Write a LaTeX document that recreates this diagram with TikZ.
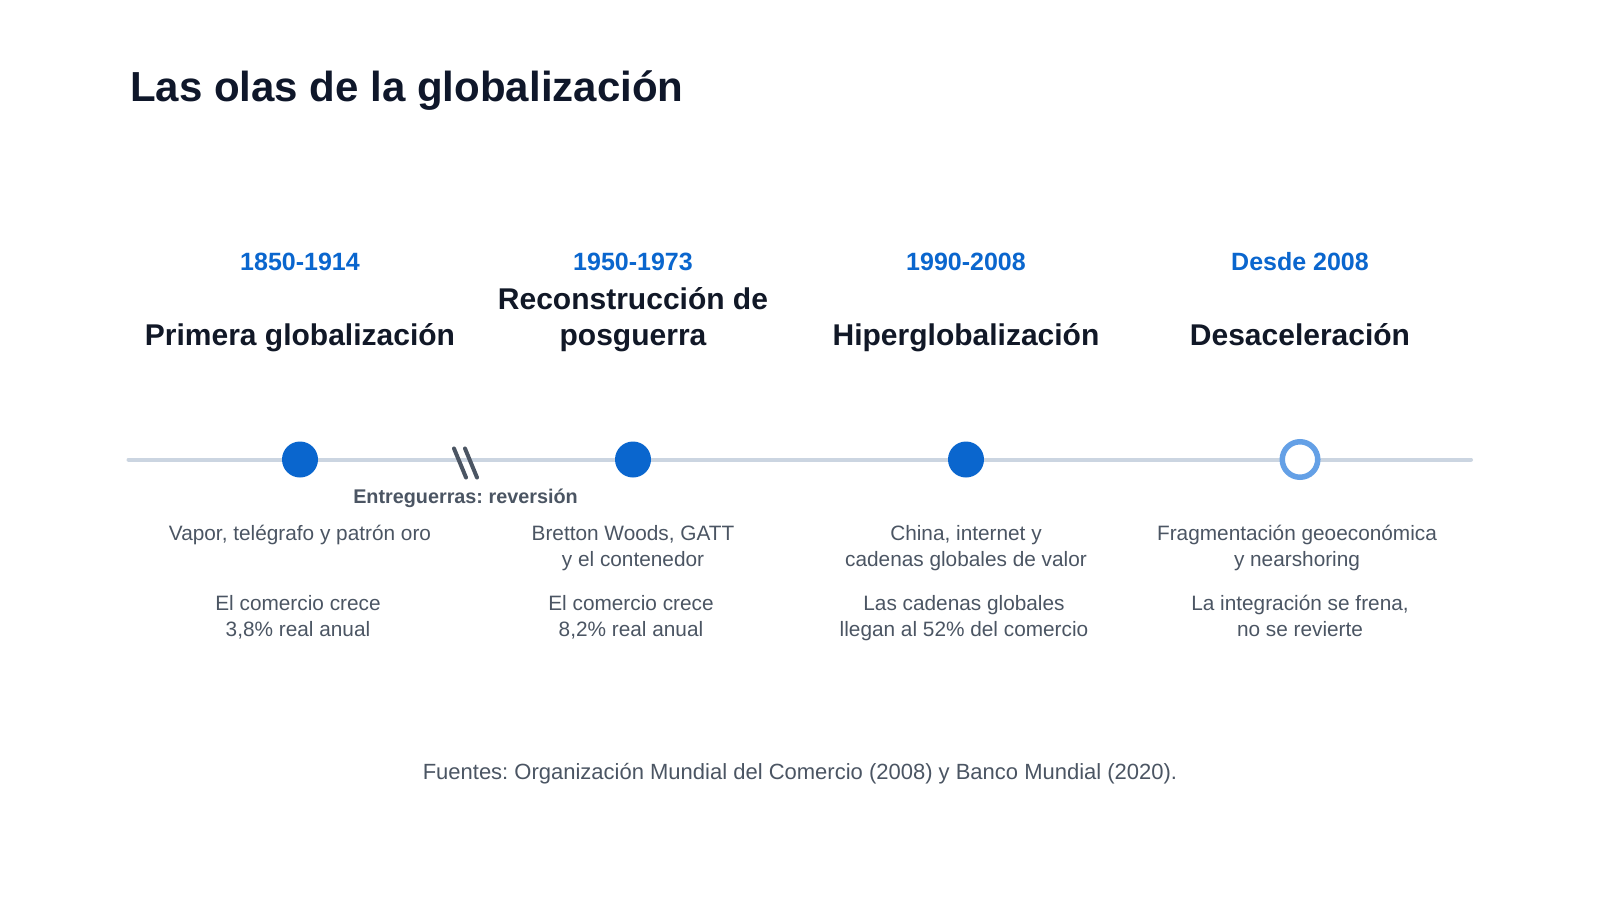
\documentclass[tikz,border=0pt]{standalone}
\usepackage{fontspec}
\setmainfont{Liberation Sans}
\frenchspacing
\definecolor{inkdark}{HTML}{111827}
\definecolor{inknavy}{HTML}{0F172A}
\definecolor{inkgray}{HTML}{4B5563}
\definecolor{waveblue}{HTML}{0A66CE}
\definecolor{ringblue}{HTML}{64A0E6}
\definecolor{railgray}{HTML}{CBD5E1}

\begin{document}
\begin{tikzpicture}[x=1pt,y=-1pt]
  \tikzset{wave date/.style={text=waveblue,font=\fontsize{25}{30}\selectfont\bfseries,anchor=base,inner sep=0},
    wave name/.style={text=inkdark,font=\fontsize{30}{36}\selectfont\bfseries,align=center,anchor=base,inner sep=0},
    wave text/.style={text=inkgray,font=\fontsize{20.8}{26.5}\selectfont,align=center,anchor=base,inner sep=0},
    wave dot/.style={circle,fill=waveblue,minimum size=36pt,inner sep=0}}
  \useasboundingbox[fill=white] (0,0) rectangle (1600,900);
  \node[anchor=base west,inner sep=0,text=inknavy,font=\fontsize{42}{50}\selectfont\bfseries] (title) at (130,101) {Las olas de la globalización};

  % rail
  \coordinate (railA) at (128.5,459.5);
  \coordinate (railB) at (1471,459.5);
  \draw[railgray,line width=4pt,line cap=round] (railA) -- (railB);

  \node[wave dot] (dot1) at (300,459.5) {};
  \node[wave dot] (dot2) at (633,459.5) {};
  \node[wave dot] (dot3) at (966,459.5) {};
  \node[circle,draw=ringblue,line width=5.5pt,fill=white,minimum size=35.5pt,inner sep=0] (dot4) at (1300,459.5) {};

  % break between the waves
  \coordinate (brk) at (465.5,463);
  \draw[inkgray,line width=4pt,line cap=round] ([shift={(-11.5,-14.5)}]brk) -- ([shift={(0.5,14.5)}]brk);
  \draw[inkgray,line width=4pt,line cap=round] ([shift={(-0.5,-14.5)}]brk) -- ([shift={(11.5,14.5)}]brk);
  \node[text=inkgray,font=\fontsize{19.8}{24}\selectfont\bfseries,anchor=base,inner sep=0] (gap) at (465.5,503) {Entreguerras: reversión};

  % dates
  \node[wave date] (date1) at (300,270) {1850-1914};
  \node[wave date] (date2) at (633,270) {1950-1973};
  \node[wave date] (date3) at (966,270) {1990-2008};
  \node[wave date] (date4) at (1300,270) {Desde 2008};

  % names (base = last line)
  \node[wave name] (name1) at (300,345) {Primera globalización};
  \node[wave name] (name2) at (633,345) {Reconstrucción de\\posguerra};
  \node[wave name] (name3) at (966,345) {Hiperglobalización};
  \node[wave name] (name4) at (1300,345) {Desaceleración};

  % what drove them
  \node[wave text] (why1) at (300,540) {Vapor, telégrafo y patrón oro};
  \node[wave text] (why2) at (633,566.5) {Bretton Woods, GATT\\y el contenedor};
  \node[wave text] (why3) at (966,566.5) {China, internet y\\cadenas globales de valor};
  \node[wave text] (why4) at (1297,566.5) {Fragmentación geoeconómica\\y nearshoring};

  \node[wave text] (fact1) at (298,636.5) {El comercio crece\\3,8\% real anual};
  \node[wave text] (fact2) at (631,636.5) {El comercio crece\\8,2\% real anual};
  \node[wave text] (fact3) at (964,636.5) {Las cadenas globales\\llegan al 52\% del comercio};
  \node[wave text] (fact4) at (1300,636.5) {La integración se frena,\\no se revierte};

  \node[text=inkgray,font=\fontsize{22}{26}\selectfont,anchor=base,inner sep=0] (src) at (800,779.5) {Fuentes: Organización Mundial del Comercio (2008) y Banco Mundial (2020).};
\end{tikzpicture}
\end{document}
